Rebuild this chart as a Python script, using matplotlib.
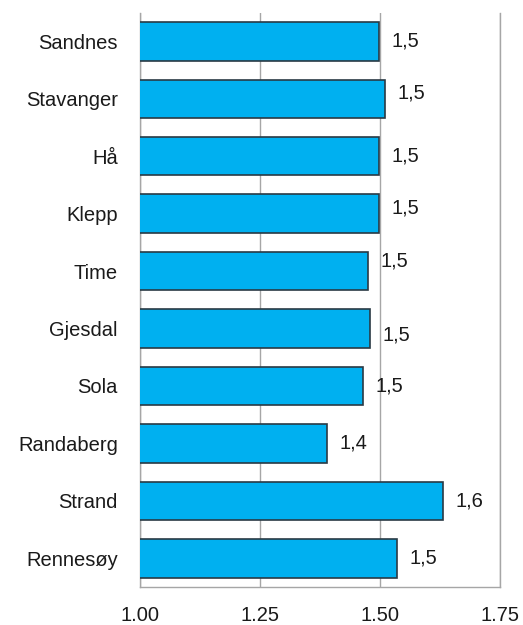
import matplotlib.pyplot as plt

plt.rcParams['font.family'] = ['Liberation Sans', 'DejaVu Sans']

# kommuner, top to bottom
kommuner = ['Sandnes', 'Stavanger', 'Hå', 'Klepp', 'Time',
            'Gjesdal', 'Sola', 'Randaberg', 'Strand', 'Rennesøy']
verdier = [1.498, 1.510, 1.498, 1.497, 1.474,
           1.479, 1.465, 1.389, 1.632, 1.535]
xticks = [1.00, 1.25, 1.50, 1.75]

# small vertical nudges of the value labels (points), as in the original
label_dy = [0, 4, 0, 4, 7, -5, 0, 0, 0, 0]

fig = plt.figure(figsize=(5.23, 6.25), dpi=100)
ax = fig.add_axes([0.2677, 0.0608, 0.6883, 0.919])

ypos = list(range(len(kommuner)))
bars = ax.barh(ypos, verdier, height=0.67, left=0, color='#00B0F0',
               edgecolor='#2a3a44', linewidth=1.2, zorder=3)

for i, v in enumerate(verdier):
    ax.annotate(f'{v:.1f}'.replace('.', ','), xy=(v, i), xytext=(9, label_dy[i]),
                textcoords='offset points', va='center', ha='left',
                fontsize=14.5, color='#1a1a1a')

ax.set_xlim(1.0, 1.75)
ax.set_ylim(len(kommuner) - 0.5, -0.5)
ax.set_yticks(ypos)
ax.set_yticklabels(kommuner, fontsize=14.5, color='#1a1a1a')
ax.set_xticks(xticks)
ax.set_xticklabels([f'{t:.2f}' for t in xticks], fontsize=14.5, color='#1a1a1a')
ax.tick_params(axis='both', length=0)
ax.tick_params(axis='y', pad=16)
ax.tick_params(axis='x', pad=14)

ax.grid(axis='x', color='#a6a6a6', linewidth=1.0, zorder=0)
ax.spines['top'].set_visible(False)
for side in ['left', 'bottom', 'right']:
    ax.spines[side].set_color('#a6a6a6')
    ax.spines[side].set_linewidth(1.0)

plt.savefig('out.png', dpi=100)
